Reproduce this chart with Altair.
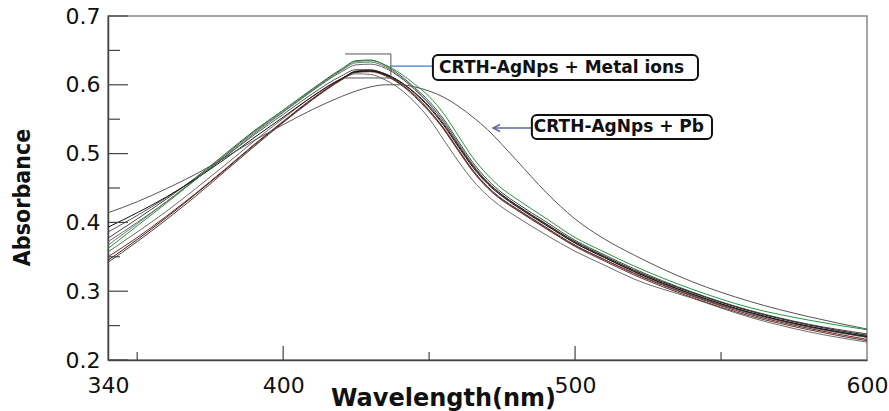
import altair as alt
import pandas as pd

# ---------------- data ----------------
wavelength = [340, 350, 360, 370, 380, 390, 400, 410, 420, 425, 430, 435, 440, 445,
              450, 455, 460, 465, 470, 475, 480, 490, 500, 510, 520, 540, 560, 580, 600]

s_green = [0.362, 0.395, 0.428, 0.462, 0.497, 0.532, 0.563, 0.593, 0.622, 0.634, 0.635, 0.629, 0.617, 0.601,
           0.583, 0.558, 0.526, 0.494, 0.469, 0.449, 0.434, 0.406, 0.378, 0.357, 0.337, 0.303, 0.276, 0.258, 0.244]
s_up2 = [0.377, 0.405, 0.434, 0.465, 0.499, 0.533, 0.563, 0.594, 0.623, 0.635, 0.636, 0.628, 0.614, 0.596,
         0.576, 0.550, 0.518, 0.487, 0.462, 0.443, 0.428, 0.401, 0.374, 0.353, 0.333, 0.299, 0.272, 0.252, 0.238]
s_up3 = [0.367, 0.398, 0.430, 0.463, 0.497, 0.531, 0.561, 0.592, 0.621, 0.632, 0.633, 0.626, 0.612, 0.594,
         0.573, 0.547, 0.515, 0.484, 0.459, 0.440, 0.425, 0.398, 0.371, 0.350, 0.330, 0.296, 0.269, 0.249, 0.235]
s_black = [0.393, 0.414, 0.437, 0.463, 0.492, 0.523, 0.553, 0.583, 0.609, 0.619, 0.620, 0.615, 0.604, 0.588,
           0.567, 0.541, 0.510, 0.480, 0.456, 0.438, 0.423, 0.396, 0.370, 0.349, 0.329, 0.296, 0.269, 0.249, 0.234]
s_red = [0.350, 0.378, 0.409, 0.442, 0.477, 0.513, 0.547, 0.580, 0.608, 0.619, 0.620, 0.614, 0.602, 0.585,
         0.563, 0.537, 0.506, 0.476, 0.452, 0.434, 0.420, 0.393, 0.367, 0.346, 0.326, 0.293, 0.266, 0.246, 0.230]
s_brown = [0.342, 0.372, 0.404, 0.438, 0.474, 0.510, 0.545, 0.578, 0.607, 0.618, 0.619, 0.613, 0.601, 0.583,
           0.561, 0.535, 0.504, 0.474, 0.450, 0.432, 0.418, 0.391, 0.365, 0.344, 0.324, 0.291, 0.264, 0.244, 0.228]
s_g7 = [0.386, 0.410, 0.436, 0.464, 0.495, 0.527, 0.557, 0.587, 0.613, 0.622, 0.622, 0.615, 0.602, 0.585,
        0.563, 0.536, 0.505, 0.475, 0.451, 0.433, 0.419, 0.392, 0.366, 0.346, 0.327, 0.294, 0.268, 0.248, 0.233]
s_low = [0.357, 0.386, 0.416, 0.449, 0.483, 0.518, 0.551, 0.583, 0.609, 0.616, 0.615, 0.607, 0.594, 0.575,
         0.551, 0.520, 0.489, 0.461, 0.439, 0.422, 0.408, 0.382, 0.358, 0.338, 0.318, 0.290, 0.262, 0.241, 0.226]
s_b9 = [0.345, 0.375, 0.407, 0.441, 0.476, 0.512, 0.546, 0.579, 0.608, 0.620, 0.621, 0.616, 0.605, 0.589,
        0.569, 0.543, 0.512, 0.482, 0.458, 0.440, 0.425, 0.398, 0.372, 0.351, 0.331, 0.298, 0.271, 0.251, 0.236]
s_g10 = [0.372, 0.400, 0.430, 0.462, 0.495, 0.529, 0.560, 0.591, 0.619, 0.629, 0.630, 0.624, 0.611, 0.593,
         0.572, 0.546, 0.514, 0.483, 0.458, 0.439, 0.424, 0.397, 0.370, 0.349, 0.329, 0.295, 0.268, 0.248, 0.233]
s_pb = [0.414, 0.430, 0.449, 0.470, 0.494, 0.519, 0.542, 0.564, 0.583, 0.591, 0.597, 0.600, 0.600, 0.597,
        0.591, 0.582, 0.569, 0.553, 0.535, 0.513, 0.490, 0.444, 0.405, 0.376, 0.353, 0.314, 0.285, 0.263, 0.245]

series_names = ["m1", "m2", "m3", "m4", "m5", "m6", "m7", "m8", "m9", "m10", "Pb"]
series_values = [s_up2, s_up3, s_g10, s_g7, s_low, s_b9, s_brown, s_red, s_black, s_green, s_pb]
series_colors = ["#444444", "#777777", "#666666", "#555555", "#6a6a6a", "#222222",
                 "#5a3a30", "#7a1f1f", "#111111", "#1f9a3a", "#555555"]
series_widths = [1, 1, 1, 1, 1, 1, 1, 1, 1.6, 1.3, 1]

y_major = [0.2, 0.3, 0.4, 0.5, 0.6, 0.7]
y_minor = [0.25, 0.35, 0.45, 0.55, 0.65]
x_major = [400, 500]
x_minor = [350, 450, 550]
x_labels = [340, 400, 500, 600]

# annotation boxes (data coordinates)
box_labels = ["CRTH-AgNps + Metal ions", "CRTH-AgNps + Pb"]
box_x1 = [451.3, 485.2]
box_x2 = [542.1, 546.9]
box_y1 = [0.607, 0.5212]
box_y2 = [0.6433, 0.5561]
box_tx = [495.4, 515.0]
box_ty = [0.6251, 0.5387]

# bracket + connector lines
seg_x1 = [421.2, 436.9, 421.2, 436.9, 485.2]
seg_x2 = [436.9, 436.9, 436.9, 451.3, 471.9]
seg_y1 = [0.6448, 0.6448, 0.6099, 0.6273, 0.5372]
seg_y2 = [0.6448, 0.6099, 0.6099, 0.6273, 0.5372]
seg_kind = ["bracket", "bracket", "bracket", "blue", "arrow"]

arrow_x = [471.9]
arrow_y = [0.5372]

# ---------------- build ----------------
rows = []
for name, vals in zip(series_names, series_values):
    for w, v in zip(wavelength, vals):
        rows.append({"wavelength": w, "absorbance": v, "series": name})
df = pd.DataFrame(rows)

xscale = alt.Scale(domain=[340, 600], nice=False, zero=False)
yscale = alt.Scale(domain=[0.2, 0.7], nice=False, zero=False)

xaxis = alt.Axis(values=x_labels, title="Wavelength(nm)", ticks=False, grid=False,
                 labelFont="DejaVu Sans", labelFontSize=22, labelColor="#111",
                 labelFlush=False, labelPadding=15, labelOverlap=False,
                 domainColor="#444", domainWidth=1.5,
                 titleFont="DejaVu Sans", titleFontSize=24, titleFontWeight="bold",
                 titleColor="#111", titleX=335, titleY=45, titleBaseline="alphabetic",
                 titleAnchor="start", titleAlign="center")
yaxis = alt.Axis(values=y_major, format=".1f", title="Absorbance", ticks=False, grid=False,
                 labelFont="DejaVu Sans", labelFontSize=22, labelColor="#111",
                 labelPadding=8, labelFlush=False,
                 domainColor="#444", domainWidth=1.5,
                 titleFont="DejaVu Sans Condensed, Liberation Sans, sans-serif", titleFontSize=23,
                 titleFontWeight="bold",
                 titleColor="#111", titleX=-86, titleY=181, titleAngle=270,
                 titleAlign="center", titleBaseline="middle")

lines = alt.Chart(df).mark_line(interpolate="monotone").encode(
    x=alt.X("wavelength:Q", scale=xscale, axis=xaxis),
    y=alt.Y("absorbance:Q", scale=yscale, axis=yaxis),
    color=alt.Color("series:N", scale=alt.Scale(domain=series_names, range=series_colors), legend=None),
    strokeWidth=alt.StrokeWidth("series:N", scale=alt.Scale(domain=series_names, range=series_widths), legend=None),
    order=alt.Order("wavelength:Q"),
)

ymaj = alt.Chart(pd.DataFrame({"v": y_major})).mark_rule(color="#444", strokeWidth=1.2).encode(
    y=alt.Y("v:Q", scale=yscale), x=alt.value(0), x2=alt.value(20))
ymin = alt.Chart(pd.DataFrame({"v": y_minor})).mark_rule(color="#444", strokeWidth=1.2).encode(
    y=alt.Y("v:Q", scale=yscale), x=alt.value(0), x2=alt.value(12))
xmaj = alt.Chart(pd.DataFrame({"v": x_major})).mark_rule(color="#444", strokeWidth=1.2).encode(
    x=alt.X("v:Q", scale=xscale), y=alt.value(344), y2=alt.value(330))
xmin = alt.Chart(pd.DataFrame({"v": x_minor})).mark_rule(color="#444", strokeWidth=1.2).encode(
    x=alt.X("v:Q", scale=xscale), y=alt.value(344), y2=alt.value(336))

segdf = pd.DataFrame({"x1": seg_x1, "x2": seg_x2, "y1": seg_y1, "y2": seg_y2, "kind": seg_kind})
segs = alt.Chart(segdf).mark_rule().encode(
    x=alt.X("x1:Q", scale=xscale), x2="x2:Q",
    y=alt.Y("y1:Q", scale=yscale), y2="y2:Q",
    color=alt.Color("kind:N", scale=alt.Scale(domain=["bracket", "blue", "arrow"],
                                               range=["#555555", "#3b7bd0", "#5a6a9a"]), legend=None),
    strokeWidth=alt.StrokeWidth("kind:N", scale=alt.Scale(domain=["bracket", "blue", "arrow"],
                                                          range=[1, 1.5, 1.5]), legend=None),
)

arrow = alt.Chart(pd.DataFrame({"x": arrow_x, "y": arrow_y})).mark_point(
    shape="M1,-0.5L0,0L1,0.5", size=196, filled=False, color="#5a6a9a", strokeWidth=1.5, opacity=1
).encode(x=alt.X("x:Q", scale=xscale), y=alt.Y("y:Q", scale=yscale))

boxdf = pd.DataFrame({"label": box_labels, "x1": box_x1, "x2": box_x2, "y1": box_y1, "y2": box_y2,
                      "tx": box_tx, "ty": box_ty})
boxes = alt.Chart(boxdf).mark_rect(fill="white", stroke="#111", strokeWidth=2, cornerRadius=5).encode(
    x=alt.X("x1:Q", scale=xscale), x2="x2:Q", y=alt.Y("y1:Q", scale=yscale), y2="y2:Q")
texts = alt.Chart(boxdf).mark_text(font="DejaVu Sans", fontSize=17, fontWeight="bold",
                                   color="#111", align="center", baseline="middle").encode(
    x=alt.X("tx:Q", scale=xscale), y=alt.Y("ty:Q", scale=yscale), text="label:N")

chart = alt.layer(lines, ymaj, ymin, xmaj, xmin, segs, arrow, boxes, texts).resolve_scale(
    color="independent", strokeWidth="independent"
).properties(
    width=759, height=344,
    autosize=alt.AutoSizeParams(type="none"),
    padding={"left": 108, "top": 16, "right": 22, "bottom": 51},
).configure_view(stroke="#888", strokeWidth=1.5)

chart.save("out.html", embed_options={"renderer": "svg", "actions": False})
